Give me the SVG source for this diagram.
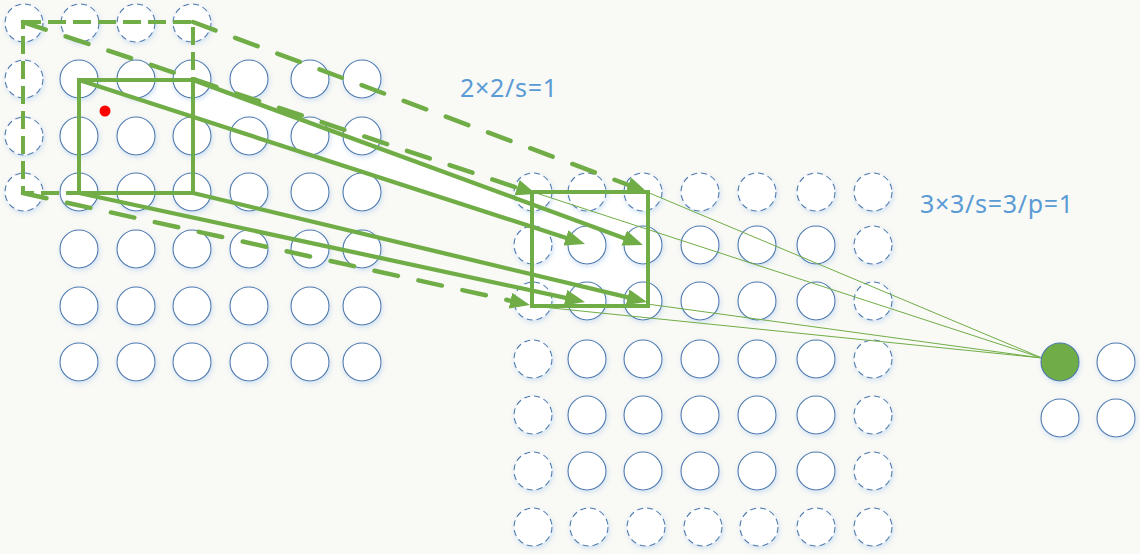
<svg xmlns="http://www.w3.org/2000/svg" width="1140" height="554" viewBox="0 0 1140 554">
<defs>
<style>
.c{fill:#fff;stroke:#4A78AE;stroke-width:1.1;filter:url(#glow)}
.d{stroke-dasharray:6 4}
.ln{fill:none;stroke:#70AD47;stroke-width:4.3}
.dl{fill:none;stroke:#70AD47;stroke-width:4.5;stroke-dasharray:24 21;stroke-linecap:round}
.th{fill:none;stroke:#70AD47;stroke-width:1}
.lbl{font-family:"Noto Sans","Open Sans","Liberation Sans",sans-serif;font-size:25px;fill:#5B9BD5;letter-spacing:0.7px}
</style>
<filter id="glow" x="-40%" y="-40%" width="180%" height="180%">
<feGaussianBlur in="SourceAlpha" stdDeviation="2.5" result="b"/>
<feOffset in="b" dx="1" dy="2" result="o"/>
<feFlood flood-color="#C4DAF1" flood-opacity="0.8"/>
<feComposite in2="o" operator="in" result="s"/>
<feMerge><feMergeNode in="s"/><feMergeNode in="SourceGraphic"/></feMerge>
</filter>
<marker id="ah" markerUnits="userSpaceOnUse" viewBox="0 0 20 16" markerWidth="20" markerHeight="16" refX="11" refY="8" orient="auto">
<path d="M0,0 L20,8 L0,16 z" fill="#70AD47"/>
</marker>
</defs>
<rect width="1140" height="554" fill="#F9F9F5"/>
<g id="projection-fill">
<polygon points="79,80 193,80 643,245 585,244" fill="#fff"/>
<rect x="532" y="192" width="116" height="114" fill="#fff"/>
</g>
<g id="input-grid">
<circle class="c d" cx="24" cy="23" r="19"/><circle class="c d" cx="80" cy="23" r="19"/><circle class="c d" cx="136" cy="23" r="19"/><circle class="c d" cx="192" cy="23" r="19"/>
<circle class="c d" cx="24" cy="79" r="19"/><circle class="c d" cx="24" cy="136" r="19"/><circle class="c d" cx="24" cy="192" r="19"/>
<circle class="c" cx="79" cy="79" r="19"/><circle class="c" cx="136" cy="79" r="19"/><circle class="c" cx="192" cy="79" r="19"/><circle class="c" cx="249" cy="79" r="19"/><circle class="c" cx="310" cy="79" r="19"/><circle class="c" cx="362" cy="79" r="19"/>
<circle class="c" cx="79" cy="136" r="19"/><circle class="c" cx="136" cy="136" r="19"/><circle class="c" cx="192" cy="136" r="19"/><circle class="c" cx="249" cy="136" r="19"/><circle class="c" cx="310" cy="136" r="19"/><circle class="c" cx="362" cy="136" r="19"/>
<circle class="c" cx="79" cy="192" r="19"/><circle class="c" cx="136" cy="192" r="19"/><circle class="c" cx="192" cy="192" r="19"/><circle class="c" cx="249" cy="192" r="19"/><circle class="c" cx="310" cy="192" r="19"/><circle class="c" cx="362" cy="192" r="19"/>
<circle class="c" cx="79" cy="249" r="19"/><circle class="c" cx="136" cy="249" r="19"/><circle class="c" cx="192" cy="249" r="19"/><circle class="c" cx="249" cy="249" r="19"/><circle class="c" cx="310" cy="249" r="19"/><circle class="c" cx="362" cy="249" r="19"/>
<circle class="c" cx="79" cy="306" r="19"/><circle class="c" cx="136" cy="306" r="19"/><circle class="c" cx="192" cy="306" r="19"/><circle class="c" cx="249" cy="306" r="19"/><circle class="c" cx="310" cy="306" r="19"/><circle class="c" cx="362" cy="306" r="19"/>
<circle class="c" cx="79" cy="362" r="19"/><circle class="c" cx="136" cy="362" r="19"/><circle class="c" cx="192" cy="362" r="19"/><circle class="c" cx="249" cy="362" r="19"/><circle class="c" cx="310" cy="362" r="19"/><circle class="c" cx="362" cy="362" r="19"/>
</g>
<g id="middle-grid">
<circle class="c d" cx="533" cy="192" r="19"/><circle class="c d" cx="587" cy="192" r="19"/><circle class="c d" cx="643" cy="192" r="19"/><circle class="c d" cx="700" cy="192" r="19"/><circle class="c d" cx="757" cy="192" r="19"/><circle class="c d" cx="816" cy="192" r="19"/><circle class="c d" cx="873" cy="192" r="19"/>
<circle class="c d" cx="533" cy="245" r="19"/><circle class="c" cx="587" cy="245" r="19"/><circle class="c" cx="643" cy="245" r="19"/><circle class="c" cx="700" cy="245" r="19"/><circle class="c" cx="757" cy="245" r="19"/><circle class="c" cx="816" cy="245" r="19"/><circle class="c d" cx="873" cy="245" r="19"/>
<circle class="c d" cx="533" cy="301" r="19"/><circle class="c" cx="587" cy="301" r="19"/><circle class="c" cx="643" cy="301" r="19"/><circle class="c" cx="700" cy="301" r="19"/><circle class="c" cx="757" cy="301" r="19"/><circle class="c" cx="816" cy="301" r="19"/><circle class="c d" cx="873" cy="301" r="19"/>
<circle class="c d" cx="533" cy="359" r="19"/><circle class="c" cx="587" cy="359" r="19"/><circle class="c" cx="643" cy="359" r="19"/><circle class="c" cx="700" cy="359" r="19"/><circle class="c" cx="757" cy="359" r="19"/><circle class="c" cx="816" cy="359" r="19"/><circle class="c d" cx="873" cy="359" r="19"/>
<circle class="c d" cx="533" cy="415" r="19"/><circle class="c" cx="587" cy="415" r="19"/><circle class="c" cx="643" cy="415" r="19"/><circle class="c" cx="700" cy="415" r="19"/><circle class="c" cx="757" cy="415" r="19"/><circle class="c" cx="816" cy="415" r="19"/><circle class="c d" cx="873" cy="415" r="19"/>
<circle class="c d" cx="533" cy="471" r="19"/><circle class="c" cx="587" cy="471" r="19"/><circle class="c" cx="643" cy="471" r="19"/><circle class="c" cx="700" cy="471" r="19"/><circle class="c" cx="757" cy="471" r="19"/><circle class="c" cx="816" cy="471" r="19"/><circle class="c d" cx="873" cy="471" r="19"/>
<circle class="c d" cx="533" cy="527" r="19"/><circle class="c d" cx="589" cy="527" r="19"/><circle class="c d" cx="646" cy="527" r="19"/><circle class="c d" cx="703" cy="527" r="19"/><circle class="c d" cx="759" cy="527" r="19"/><circle class="c d" cx="816" cy="527" r="19"/><circle class="c d" cx="873" cy="527" r="19"/>
</g>
<g id="connectors">
<line class="dl" x1="23" y1="22" x2="527.5" y2="191.2" marker-end="url(#ah)"/>
<line class="dl" x1="193" y1="22" x2="638.6" y2="188.8" marker-end="url(#ah)"/>
<line class="dl" x1="23" y1="193" x2="521.2" y2="303.1" marker-end="url(#ah)"/>
<line class="ln" x1="79" y1="80" x2="576.4" y2="241.2" marker-end="url(#ah)"/>
<line class="ln" x1="193" y1="80" x2="634.5" y2="241.9" marker-end="url(#ah)"/>
<line class="ln" x1="79" y1="193" x2="576.2" y2="300.1" marker-end="url(#ah)"/>
<line class="ln" x1="193" y1="193" x2="638.3" y2="299.9" marker-end="url(#ah)"/>
<line class="th" x1="533" y1="192" x2="1042" y2="358"/>
<line class="th" x1="647" y1="192" x2="1042" y2="358"/>
<line class="th" x1="532" y1="306" x2="1042" y2="358"/>
<line class="th" x1="647" y1="304" x2="1042" y2="358"/>
</g>
<g id="window-dashed">
<rect x="23" y="22" width="170" height="171" fill="none" stroke="#70AD47" stroke-width="4" stroke-dasharray="18 7"/>
</g>
<g id="window-input">
<rect x="79" y="80" width="114" height="113" fill="none" stroke="#70AD47" stroke-width="4"/>
</g>
<g id="window-middle">
<rect x="532" y="192" width="116" height="114" fill="none" stroke="#70AD47" stroke-width="4"/>
</g>
<g id="output-grid">
<circle class="c" cx="1060" cy="362" r="19" style="fill:#70AD47"/>
<circle class="c" cx="1116" cy="362" r="19"/>
<circle class="c" cx="1060" cy="418" r="19"/>
<circle class="c" cx="1116" cy="418" r="19"/>
</g>
<g id="red-dot"><circle cx="105" cy="111" r="5.5" fill="#FF0000"/></g>
<g id="label-1"><text class="lbl" x="460" y="97">2×2/s=1</text></g>
<g id="label-2"><text class="lbl" x="920" y="213">3×3/s=3/p=1</text></g>
</svg>
